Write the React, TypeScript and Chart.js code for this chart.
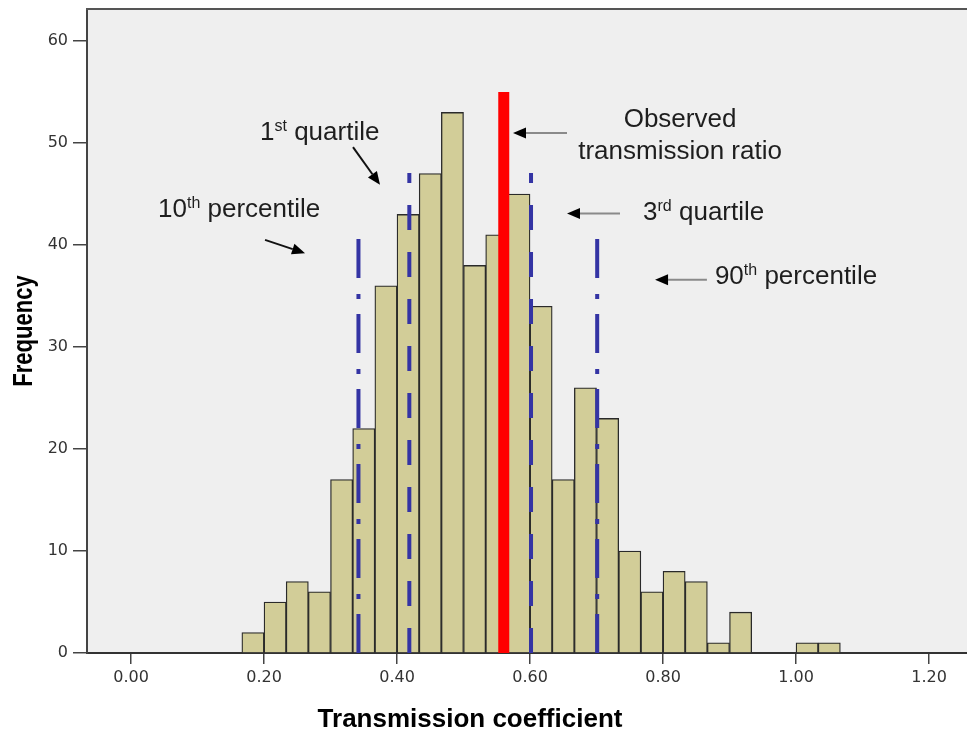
import { useEffect, useRef } from 'react';
import { Chart, registerables } from 'chart.js';

Chart.register(...registerables);

// ---- data ----
const binStart = 5 / 30;
const binWidth = 1 / 30;
const binCounts = [2, 5, 7, 6, 17, 22, 36, 43, 47, 53, 38, 41, 45, 34, 17, 26, 23, 10, 6, 8, 7, 1, 4, 0, 0, 1, 1];
const xTickValues = [0, 0.2, 0.4, 0.6, 0.8, 1.0, 1.2];
const yTickValues = [0, 10, 20, 30, 40, 50, 60];
const xMin = -0.0662;
const xMax = 1.2571;
const yMax = 63.14;

const observedRatio = 0.5605;
const observedTop = 55;

const percentileLabels = ['10th percentile', '1st quartile', '3rd quartile', '90th percentile'];
const percentileValues = [0.342, 0.4185, 0.6015, 0.701];
const percentileTops = [40.7, 47.05, 47.05, 40.7];
const percentileStyles = ['dashdot', 'dash', 'dash', 'dashdot'];

type Part = { t: string; sup?: boolean };
type Note = { parts: Part[]; x: number; y: number; align: 'left' | 'center' };
const notes: Note[] = [
  { parts: [{ t: '1' }, { t: 'st', sup: true }, { t: ' quartile' }], x: 0.194, y: 50.3, align: 'left' },
  { parts: [{ t: '10' }, { t: 'th', sup: true }, { t: ' percentile' }], x: 0.0406, y: 42.7, align: 'left' },
  { parts: [{ t: 'Observed' }], x: 0.8256, y: 51.57, align: 'center' },
  { parts: [{ t: 'transmission ratio' }], x: 0.8256, y: 48.4, align: 'center' },
  { parts: [{ t: '3' }, { t: 'rd', sup: true }, { t: ' quartile' }], x: 0.77, y: 42.45, align: 'left' },
  { parts: [{ t: '90' }, { t: 'th', sup: true }, { t: ' percentile' }], x: 0.878, y: 36.15, align: 'left' },
];

type Arrow = { x1: number; y1: number; x2: number; y2: number; line: string };
const arrows: Arrow[] = [
  { x1: 0.3338, y1: 49.6, x2: 0.3744, y2: 45.9, line: '#111' },
  { x1: 0.2015, y1: 40.5, x2: 0.2617, y2: 39.2, line: '#111' },
  { x1: 0.6556, y1: 50.98, x2: 0.5744, y2: 50.98, line: '#8a8a8a' },
  { x1: 0.7353, y1: 43.1, x2: 0.6556, y2: 43.1, line: '#8a8a8a' },
  { x1: 0.866, y1: 36.6, x2: 0.788, y2: 36.6, line: '#8a8a8a' },
];

const FONT = '"Liberation Sans", Arial, sans-serif';

function drawArrow(ctx: CanvasRenderingContext2D, x1: number, y1: number, x2: number, y2: number, line: string) {
  const ang = Math.atan2(y2 - y1, x2 - x1);
  const headLen = 13;
  const headW = 5.5;
  const bx = x2 - headLen * Math.cos(ang);
  const by = y2 - headLen * Math.sin(ang);
  ctx.save();
  ctx.strokeStyle = line;
  ctx.lineWidth = 2;
  ctx.beginPath();
  ctx.moveTo(x1, y1);
  ctx.lineTo(bx, by);
  ctx.stroke();
  ctx.fillStyle = '#000';
  ctx.beginPath();
  ctx.moveTo(x2, y2);
  ctx.lineTo(bx + headW * Math.sin(ang), by - headW * Math.cos(ang));
  ctx.lineTo(bx - headW * Math.sin(ang), by + headW * Math.cos(ang));
  ctx.closePath();
  ctx.fill();
  ctx.restore();
}

const decoPlugin = {
  id: 'deco',
  beforeDraw(chart: any) {
    const { ctx, chartArea } = chart;
    ctx.save();
    ctx.fillStyle = '#efefef';
    ctx.fillRect(chartArea.left, chartArea.top, chartArea.right - chartArea.left, chartArea.bottom - chartArea.top);
    ctx.restore();
  },
  afterDraw(chart: any) {
    const { ctx, chartArea, scales } = chart;
    const xs = scales.x;
    const ys = scales.y;
    ctx.save();
    // top frame line
    ctx.strokeStyle = '#555';
    ctx.lineWidth = 2;
    ctx.beginPath();
    ctx.moveTo(chartArea.left - 1, chartArea.top);
    ctx.lineTo(chartArea.right, chartArea.top);
    ctx.stroke();

    // axis titles
    ctx.fillStyle = '#000';
    ctx.font = `bold 26px ${FONT}`;
    ctx.textAlign = 'center';
    ctx.textBaseline = 'alphabetic';
    ctx.fillText('Transmission coefficient', 470, 727);

    ctx.save();
    ctx.translate(24, (chartArea.top + chartArea.bottom) / 2);
    ctx.rotate(-Math.PI / 2);
    ctx.scale(1, 1.25);
    ctx.font = `bold 22px ${FONT}`;
    ctx.textAlign = 'center';
    ctx.textBaseline = 'middle';
    ctx.fillText('Frequency', 0, 0);
    ctx.restore();

    // annotations
    ctx.fillStyle = '#1e1e1e';
    ctx.textBaseline = 'alphabetic';
    ctx.textAlign = 'left';
    for (const n of notes) {
      const big = `26px ${FONT}`;
      const small = `16px ${FONT}`;
      let total = 0;
      for (const p of n.parts) {
        ctx.font = p.sup ? small : big;
        total += ctx.measureText(p.t).width;
      }
      let px = xs.getPixelForValue(n.x);
      if (n.align === 'center') px -= total / 2;
      const py = ys.getPixelForValue(n.y);
      for (const p of n.parts) {
        ctx.font = p.sup ? small : big;
        ctx.fillText(p.t, px, p.sup ? py - 9 : py);
        px += ctx.measureText(p.t).width;
      }
    }
    for (const a of arrows) {
      drawArrow(ctx, xs.getPixelForValue(a.x1), ys.getPixelForValue(a.y1), xs.getPixelForValue(a.x2), ys.getPixelForValue(a.y2), a.line);
    }
    ctx.restore();
  },
};

export default function App() {
  const ref = useRef<HTMLCanvasElement>(null);
  useEffect(() => {
    if (!ref.current) return;
    const barData = binCounts.map((c, i) => ({ x: binStart + (i + 0.5) * binWidth, y: c === 0 ? null : c }));
    const pctDatasets = percentileValues.map((v, i) => ({
      type: 'line' as const,
      label: percentileLabels[i],
      data: [
        { x: v, y: 0 },
        { x: v, y: percentileTops[i] },
      ],
      borderColor: '#3434a4',
      borderWidth: 4,
      borderDash: percentileStyles[i] === 'dash' ? [25, 22] : [39, 15, 5, 16],
      borderCapStyle: 'butt' as const,
      pointRadius: 0,
      fill: false,
      order: 1,
    }));
    const chart = new Chart(ref.current, {
      type: 'bar',
      data: {
        datasets: [
          {
            type: 'bar',
            label: 'Frequency',
            data: barData as any,
            backgroundColor: '#d2cd98',
            borderColor: '#2a2a2a',
            borderWidth: 1.3,
            barPercentage: 1,
            categoryPercentage: 1,
            order: 3,
          } as any,
          ...pctDatasets,
          {
            type: 'line',
            label: 'Observed transmission ratio',
            data: [
              { x: observedRatio, y: 0 },
              { x: observedRatio, y: observedTop },
            ],
            borderColor: '#ff0000',
            borderWidth: 11,
            borderCapStyle: 'butt',
            pointRadius: 0,
            fill: false,
            order: 0,
          } as any,
        ],
      },
      options: {
        responsive: false,
        animation: false,
        layout: { padding: { top: 9, left: 0, right: 0, bottom: 0 } },
        plugins: { legend: { display: false }, tooltip: { enabled: false } },
        scales: {
          x: {
            type: 'linear',
            min: xMin,
            max: xMax,
            offset: false,
            afterBuildTicks: (axis: any) => {
              axis.ticks = xTickValues.map((v) => ({ value: v }));
            },
            afterFit: (s: any) => {
              s.height = 80;
              s.paddingLeft = 0;
              s.paddingRight = 0;
            },
            grid: { offset: false, drawOnChartArea: false, drawTicks: true, tickLength: 11, color: '#444', lineWidth: 1.5 },
            border: { display: true, color: '#333', width: 2 },
            ticks: {
              includeBounds: false,
              autoSkip: false,
              maxRotation: 0,
              padding: 4,
              color: '#333',
              font: { family: '"DejaVu Sans", sans-serif', size: 16 },
              callback: (v: any) => Number(v).toFixed(2),
            },
          },
          y: {
            type: 'linear',
            min: 0,
            max: yMax,
            afterBuildTicks: (axis: any) => {
              axis.ticks = yTickValues.map((v) => ({ value: v }));
            },
            afterFit: (s: any) => {
              s.width = 87;
              s.paddingTop = 0;
              s.paddingBottom = 0;
            },
            grid: { drawOnChartArea: false, drawTicks: true, tickLength: 14, color: '#444', lineWidth: 1.5 },
            border: { display: true, color: '#444', width: 2 },
            ticks: {
              includeBounds: false,
              autoSkip: false,
              padding: 5,
              color: '#333',
              font: { family: '"DejaVu Sans", sans-serif', size: 16 },
            },
          },
        },
      },
      plugins: [decoPlugin],
    });
    return () => chart.destroy();
  }, []);
  return (
    <div style={{ position: 'absolute', left: 0, top: 0, width: 967, height: 733, background: '#fff' }}>
      <canvas ref={ref} width={967} height={733} style={{ display: 'block' }} />
    </div>
  );
}
